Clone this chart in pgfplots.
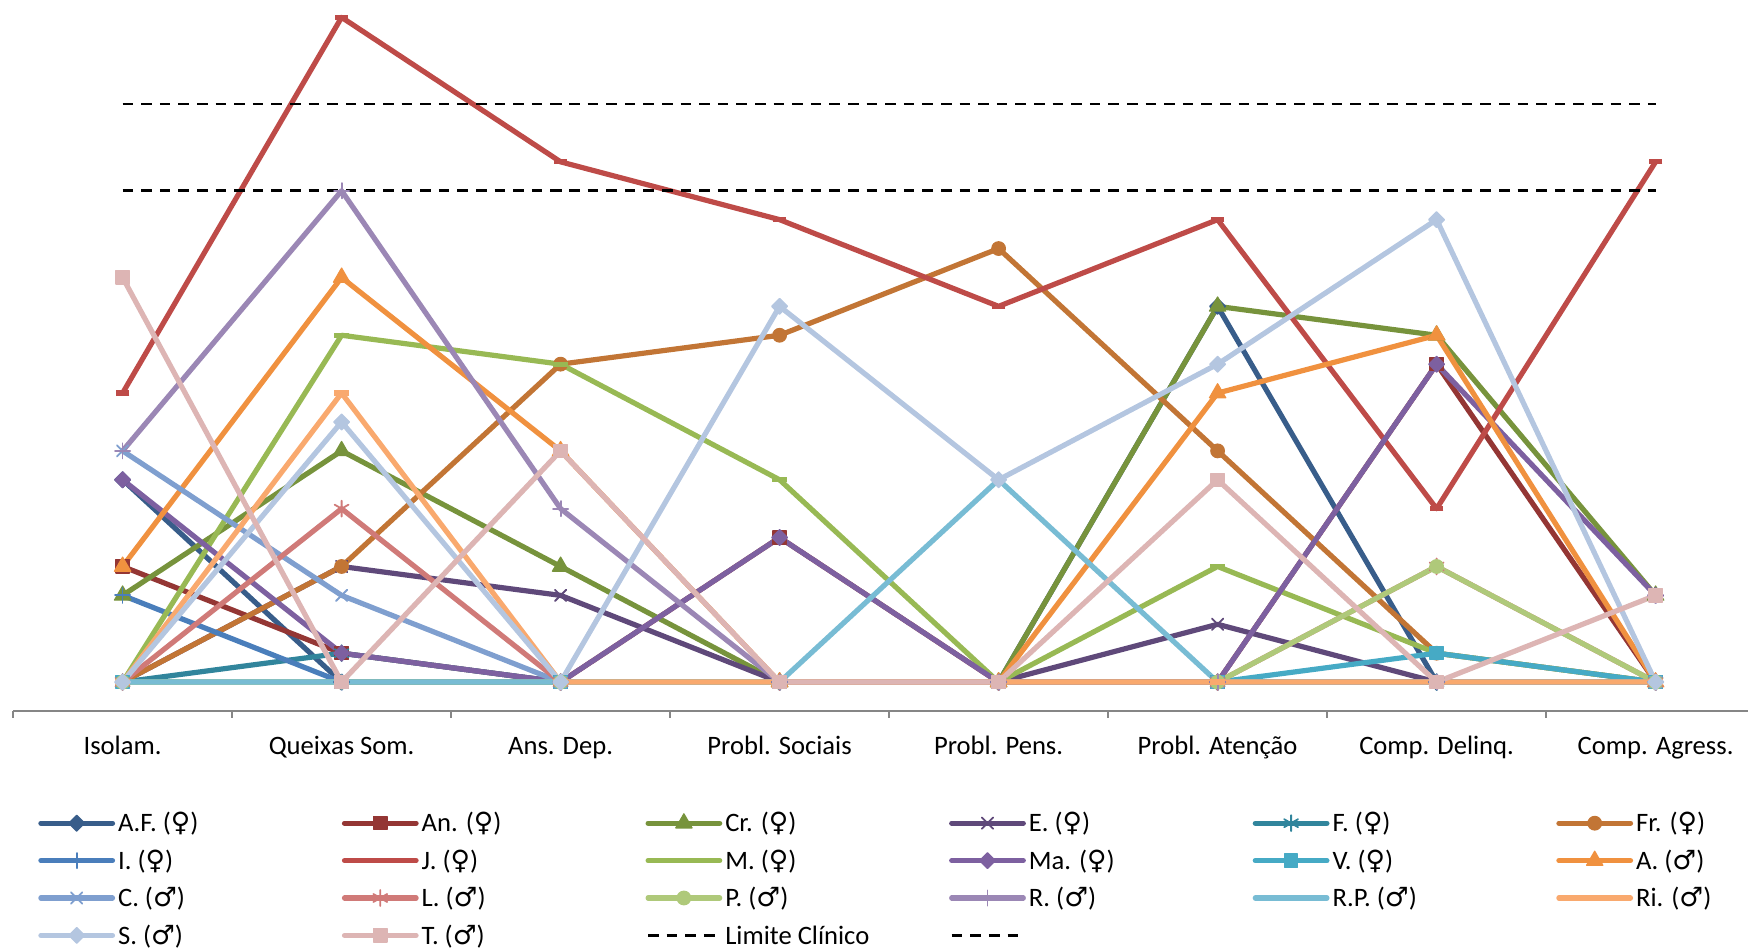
\documentclass[border=0pt]{standalone}
\usepackage{fontspec}
\setmainfont{Carlito}
\newfontfamily\sym{DejaVu Sans}
\usepackage{pgfplots}
\usepackage{pgfplotstable}
\pgfplotsset{compat=1.18}

\definecolor{cAF}{HTML}{385D8A}
\definecolor{cAn}{HTML}{943634}
\definecolor{cCr}{HTML}{77933C}
\definecolor{cE}{HTML}{5F497A}
\definecolor{cF}{HTML}{31859C}
\definecolor{cFr}{HTML}{C27535}
\definecolor{cI}{HTML}{4A7EBB}
\definecolor{cJ}{HTML}{BE4B48}
\definecolor{cM}{HTML}{98B954}
\definecolor{cMa}{HTML}{7D60A0}
\definecolor{cV}{HTML}{46AAC5}
\definecolor{cA}{HTML}{F0913F}
\definecolor{cC}{HTML}{7F9FCF}
\definecolor{cL}{HTML}{D07A78}
\definecolor{cP}{HTML}{AFC97A}
\definecolor{cR}{HTML}{9B87B5}
\definecolor{cRP}{HTML}{78BCD4}
\definecolor{cRi}{HTML}{F9A96E}
\definecolor{cS}{HTML}{B4C6E0}
\definecolor{cT}{HTML}{DDB5B4}
\definecolor{axisgray}{HTML}{868686}

\newcommand\chartfont{\fontsize{13.3pt}{16pt}\selectfont}
\newcommand\fem{({\sym ♀})}
\newcommand\mal{({\sym ♂})}
\newcommand\lgent[1]{\makebox[113.4pt][l]{\hspace{1.5pt}#1}}

% scores per scale (rows) and child (columns)
\pgfplotstableread{
x AF An Cr E F Fr I J M Ma V A C L P R RP Ri S T lima limb
0 7 4 3 0 0 0 3 10 0 7 0 4 8 0 0 8 0 0 0 14 20 17
1 0 1 8 4 1 4 0 23 12 1 0 14 3 6 0 17 0 10 9 0 20 17
2 0 0 4 3 0 11 0 18 11 0 0 8 0 0 0 6 0 0 0 8 20 17
3 0 5 0 0 0 12 0 16 7 5 0 0 0 0 0 0 0 0 13 0 20 17
4 0 0 0 0 0 15 0 13 0 0 0 0 0 0 0 0 7 0 7 0 20 17
5 13 0 13 2 0 8 0 16 4 0 0 10 0 0 0 0 0 0 11 7 20 17
6 0 11 12 0 0 1 0 6 1 11 1 12 0 4 4 0 0 0 16 0 20 17
7 0 0 3 0 0 0 0 18 0 3 0 0 0 0 0 0 0 0 0 3 20 17
}\scores

\pgfplotsset{
  s/.style n args={3}{color=#1, line width=2.6pt, line join=round, line cap=round,
    mark=#2, mark size=#3, mark options={solid, fill=#1, line width=0.6pt}},
  thinm/.style={every mark/.append style={line width=0.9pt}},
  dia/.style={every mark/.append style={rotate=45}},
  dashm/.style={every mark/.append style={line width=2.6pt, line cap=butt}},
  lim/.style={black, line width=1.4pt, dash pattern=on 5.3pt off 4pt},
}

\begin{document}
\begin{tikzpicture}
\begin{axis}[
  at={(0,0)}, anchor=south west,
  scale only axis, width=876pt, height=355.5pt,
  xmin=-0.5, xmax=7.5, ymin=-1, ymax=23.6,
  clip=false,
  axis x line*=bottom, axis y line=none, ytick=\empty,
  x axis line style={draw=axisgray, line width=0.7pt},
  xtick={0,...,7},
  xticklabels={Isolam., Queixas Som., Ans. Dep., Probl. Sociais, Probl. Pens., Probl. Atenção, Comp. Delinq., Comp. Agress.},
  major tick length=0pt,
  extra x ticks={-0.5,0.5,...,7.5}, extra x tick labels={},
  extra x tick style={tick align=outside, major tick length=3.5pt,
    tick style={draw=axisgray, line width=0.7pt}},
  xticklabel style={anchor=base, yshift=-21.8pt, font=\chartfont},
  legend columns=6,
  legend cell align=left,
  legend style={draw=none, fill=none, at={(0,0)}, anchor=north west,
    xshift=12.6pt, yshift=-48.8pt, inner sep=0pt, outer sep=0pt,
    font=\chartfont, column sep=0pt, row sep=4.1pt,
    nodes={inner sep=0pt, text height=11.6pt, text depth=3pt}},
  legend image code/.code={\draw[mark repeat=2,mark phase=2,#1]
    plot coordinates {(0pt,0pt) (17.9pt,0pt) (35.8pt,0pt)};},
]
\addplot[s={cAF}{square*}{2.8pt}, dia] table[x=x,y=AF]{\scores};
\addlegendentry{\lgent{A.F. \fem}}
\addplot[s={cAn}{square*}{3.3pt}] table[x=x,y=An]{\scores};
\addlegendentry{\lgent{An. \fem}}
\addplot[s={cCr}{triangle*}{4.7pt}] table[x=x,y=Cr]{\scores};
\addlegendentry{\lgent{Cr. \fem}}
\addplot[s={cE}{x}{4pt}, thinm] table[x=x,y=E]{\scores};
\addlegendentry{\lgent{E. \fem}}
\addplot[s={cF}{asterisk}{4pt}, thinm] table[x=x,y=F]{\scores};
\addlegendentry{\lgent{F. \fem}}
\addplot[s={cFr}{*}{3.4pt}] table[x=x,y=Fr]{\scores};
\addlegendentry{\lgent{Fr. \fem}}
\addplot[s={cI}{+}{3.8pt}, thinm] table[x=x,y=I]{\scores};
\addlegendentry{\lgent{I. \fem}}
\addplot[s={cJ}{-}{3.4pt}, dashm] table[x=x,y=J]{\scores};
\addlegendentry{\lgent{J. \fem}}
\addplot[s={cM}{-}{3.8pt}, dashm] table[x=x,y=M]{\scores};
\addlegendentry{\lgent{M. \fem}}
\addplot[s={cMa}{square*}{2.8pt}, dia] table[x=x,y=Ma]{\scores};
\addlegendentry{\lgent{Ma. \fem}}
\addplot[s={cV}{square*}{3.3pt}] table[x=x,y=V]{\scores};
\addlegendentry{\lgent{V. \fem}}
\addplot[s={cA}{triangle*}{4.7pt}] table[x=x,y=A]{\scores};
\addlegendentry{\lgent{A. \mal}}
\addplot[s={cC}{x}{4pt}, thinm] table[x=x,y=C]{\scores};
\addlegendentry{\lgent{C. \mal}}
\addplot[s={cL}{asterisk}{4pt}, thinm] table[x=x,y=L]{\scores};
\addlegendentry{\lgent{L. \mal}}
\addplot[s={cP}{*}{3.4pt}] table[x=x,y=P]{\scores};
\addlegendentry{\lgent{P. \mal}}
\addplot[s={cR}{+}{3.8pt}, thinm] table[x=x,y=R]{\scores};
\addlegendentry{\lgent{R. \mal}}
\addplot[s={cRP}{-}{3.4pt}, dashm] table[x=x,y=RP]{\scores};
\addlegendentry{\lgent{R.P. \mal}}
\addplot[s={cRi}{-}{3.8pt}, dashm] table[x=x,y=Ri]{\scores};
\addlegendentry{\lgent{Ri. \mal}}
\addplot[s={cS}{square*}{2.8pt}, dia] table[x=x,y=S]{\scores};
\addlegendentry{\lgent{S. \mal}}
\addplot[s={cT}{square*}{3.3pt}] table[x=x,y=T]{\scores};
\addlegendentry{\lgent{T. \mal}}
\addplot[lim] table[x=x,y=lima]{\scores};
\addlegendentry{\lgent{Limite Clínico}}
\addplot[lim] table[x=x,y=limb]{\scores};
\addlegendentry{\lgent{}}
\end{axis}
\pgfresetboundingbox
\useasboundingbox (-6.55pt,-120pt) rectangle (867.45pt,355.5pt);
\end{tikzpicture}
\end{document}
